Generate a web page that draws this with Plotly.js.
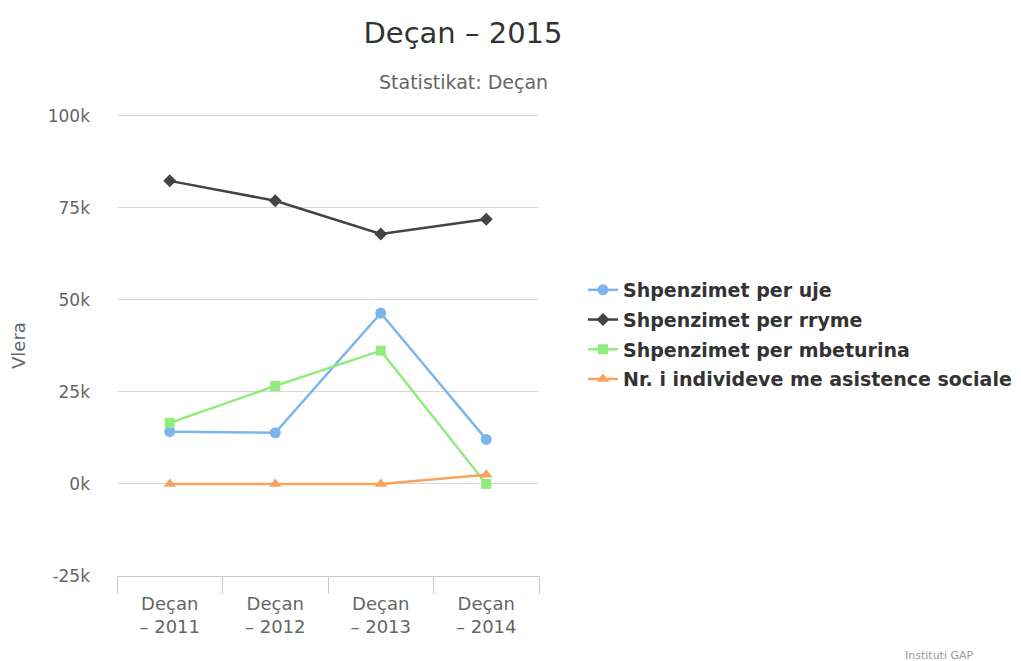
<!DOCTYPE html>
<html>
<head>
<meta charset="utf-8">
<script src="https://cdn.plot.ly/plotly-3.0.1.min.js"></script>
<style>html,body{margin:0;padding:0;background:#fff;}#chart{width:1021px;height:661px;}</style>
</head>
<body>
<div id="chart"></div>
<script>
const categories = ["Deçan – 2011", "Deçan – 2012", "Deçan – 2013", "Deçan – 2014"];
const categoryLabels = ["Deçan<br>– 2011", "Deçan<br>– 2012", "Deçan<br>– 2013", "Deçan<br>– 2014"];
const seriesNames = ["Shpenzimet per uje", "Shpenzimet per rryme", "Shpenzimet per mbeturina", "Nr. i individeve me asistence sociale"];
const ujeValues = [14200, 13900, 46400, 12100];
const rrymeValues = [82300, 76900, 67900, 71900];
const mbeturinaValues = [16600, 26600, 36200, 0];
const asistenceValues = [0, 0, 0, 2500];
const yTickValues = [-25000, 0, 25000, 50000, 75000, 100000];
const yTickLabels = ["-25k", "0k", "25k", "50k", "75k", "100k"];

const colors = ["#7cb5ec", "#434348", "#90ed7d", "#f7a35c"];
const symbols = ["circle", "diamond", "square", "triangle-up"];
const markerSizes = [11, 10, 10, 11];
const allValues = [ujeValues, rrymeValues, mbeturinaValues, asistenceValues];

const traces = allValues.map((vals, i) => ({
  type: "scatter",
  mode: "lines+markers",
  name: seriesNames[i],
  legendgroup: "g" + i,
  x: categories,
  y: vals,
  line: {color: colors[i], width: 2.5},
  marker: {color: colors[i], symbol: symbols[i], size: markerSizes[i]},
  hoverinfo: "x+y+name"
}));

// plot area: x 117..539, y 112..576 (range -25000..101000)
const PL = 117, PR = 539, PT = 112, PB = 576;
const PW = PR - PL, PH = PB - PT;

const layout = {
  width: 1021,
  height: 661,
  margin: {l: PL, r: 1021 - PR, t: PT, b: 661 - PB},
  paper_bgcolor: "#ffffff",
  plot_bgcolor: "#ffffff",
  font: {family: "DejaVu Sans, sans-serif", color: "#666666"},
  title: {
    text: "Deçan – 2015",
    font: {size: 29, color: "#333333", family: "DejaVu Sans, sans-serif"},
    x: 463 / 1021, xref: "container", xanchor: "center",
    y: 1 - 33 / 661, yref: "container", yanchor: "middle"
  },
  xaxis: {
    type: "category",
    range: [-0.5, 3.5],
    tickmode: "array",
    tickvals: categories,
    ticktext: categoryLabels,
    tickson: "boundaries",
    ticks: "outside",
    ticklen: 17,
    tickcolor: "#c8c8c8",
    showline: true,
    linecolor: "#c8c8c8",
    linewidth: 1,
    showgrid: false,
    zeroline: false,
    automargin: false,
    tickfont: {size: 18, color: "#666666"},
    ticklabelstandoff: 11,
    fixedrange: true
  },
  yaxis: {
    range: [-25000, 101000],
    tickmode: "array",
    tickvals: yTickValues,
    ticktext: yTickLabels,
    showgrid: true,
    gridcolor: "#d8d8d8",
    gridwidth: 1,
    zeroline: false,
    showline: false,
    ticks: "",
    automargin: false,
    tickfont: {size: 17, color: "#666666"},
    ticklabelstandoff: 26,
    fixedrange: true
  },
  showlegend: true,
  legend: {
    xref: "container", yref: "container",
    x: 583 / 1021, xanchor: "left",
    y: 1 - 271 / 661, yanchor: "top",
    traceorder: "grouped",
    tracegroupgap: 2,
    font: {size: 19, color: "#333333", family: "DejaVu Sans, sans-serif", weight: "bold"},
    bgcolor: "rgba(0,0,0,0)",
    borderwidth: 0
  },
  annotations: [
    {
      text: "Statistikat: Deçan",
      xref: "paper", yref: "paper",
      x: (463 - PL) / PW, y: (PB - 82) / PH,
      xanchor: "center", yanchor: "middle",
      showarrow: false,
      font: {size: 19, color: "#666666"}
    },
    {
      text: "Vlera",
      xref: "paper", yref: "paper",
      x: (18 - PL) / PW, y: (PB - 346) / PH,
      xanchor: "center", yanchor: "middle",
      textangle: -90,
      showarrow: false,
      font: {size: 18, color: "#666666"}
    },
    {
      text: "Instituti GAP",
      xref: "paper", yref: "paper",
      x: (976 - PL) / PW, y: (PB - 655) / PH,
      xanchor: "right", yanchor: "middle",
      showarrow: false,
      font: {size: 11, color: "#999999"}
    }
  ]
};

Plotly.newPlot("chart", traces, layout, {displayModeBar: false, responsive: false});
</script>
</body>
</html>
